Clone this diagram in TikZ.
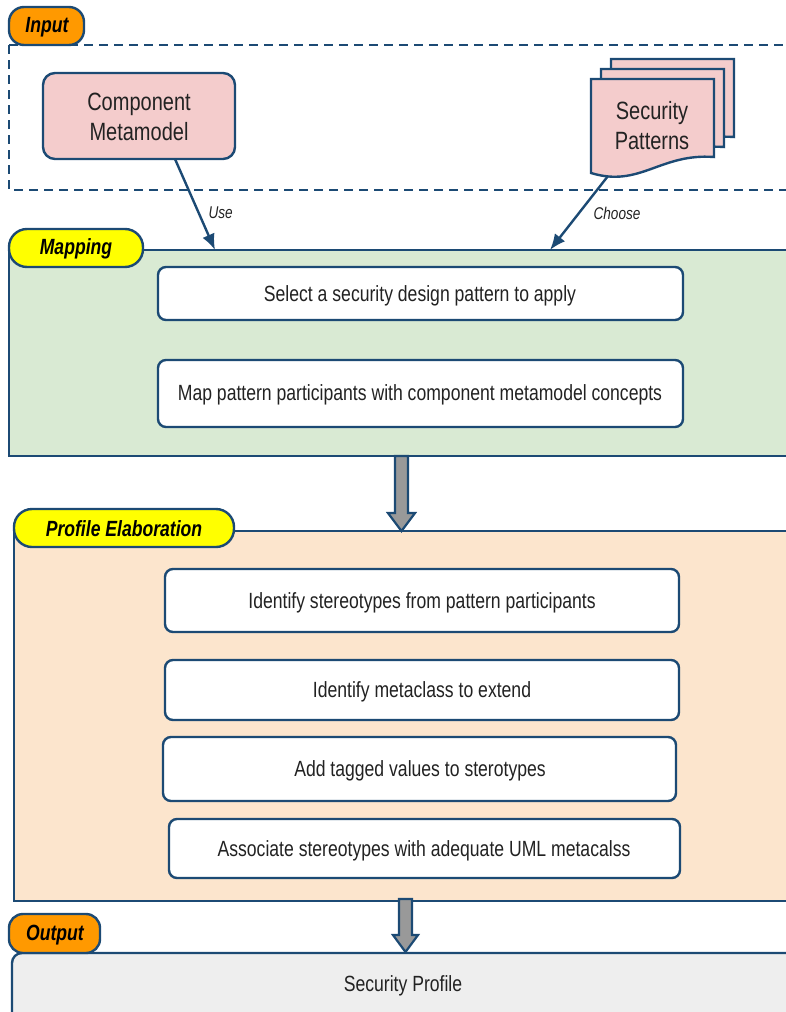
\documentclass[tikz,border=0pt]{standalone}
\usepackage{fontspec}
\setmainfont{Liberation Sans}[FakeStretch=0.80]
\usetikzlibrary{arrows.meta}
\definecolor{navy}{HTML}{1C4A74}
\definecolor{tagorange}{HTML}{FF9900}
\definecolor{tagyellow}{HTML}{FFFF00}
\definecolor{pinkfill}{HTML}{F4CCCC}
\definecolor{greenfill}{HTML}{D9EAD3}
\definecolor{peachfill}{HTML}{FCE5CD}
\definecolor{grayfill}{HTML}{EEEEEE}
\definecolor{arrowgray}{HTML}{999999}
\definecolor{txt}{HTML}{222222}
\tikzset{
  frame/.style={draw=navy, line width=2.4pt},
  stepbox/.style={draw=navy, line width=2.4pt, fill=white, rounded corners=8pt},
  tagbox/.style={draw=navy, line width=2.4pt, rounded corners=17pt},
  tagtext/.style={font=\fontsize{22}{26}\selectfont\bfseries\itshape, text=black},
  boxtext/.style={font=\fontsize{22}{26}\selectfont, text=txt},
  bigtext/.style={font=\fontsize{25}{30}\selectfont, text=txt, align=center},
  lbl/.style={font=\fontsize{17}{20}\selectfont\itshape, text=txt},
  conn/.style={draw=navy, line width=2.4pt, -{Latex[length=16pt,width=13pt]}},
  fatarrow/.style={draw=navy, line width=2.2pt, fill=arrowgray, line join=miter},
}
\begin{document}
\begin{tikzpicture}[x=1pt,y=-1pt]
\useasboundingbox (0,0) rectangle (786,1012);
\clip (0,0) rectangle (786,1012);
% Input dashed region
\draw[navy, line width=2.7pt, dash pattern=on 9pt off 6pt] (9,45) -- (800,45) (9,45) -- (9,190) -- (800,190);
% Component Metamodel
\draw[frame, fill=pinkfill, rounded corners=12pt] (43,73) rectangle (235,159);
\node[bigtext] (cm) at (139,117) {Component\\Metamodel};
\coordinate (cmB) at (175,159);
% Security patterns stack
\foreach \d in {20,10,0}{
  \draw[frame, fill=pinkfill, line join=miter]
    ({591+\d},{173-\d}) -- ({591+\d},{79-\d}) -- ({714+\d},{79-\d}) -- ({714+\d},{157-\d})
    .. controls ({660+\d},{153-\d}) and ({640+\d},{188-\d}) .. ({591+\d},{173-\d}) -- cycle;
}
\node[bigtext] (sp) at (652,126) {Security\\Patterns};
\coordinate (spB) at (608,176);
% Mapping region
\fill[greenfill] (9,250) rectangle (800,456);
\draw[navy, line width=2.4pt] (800,250) -- (9,250) -- (9,456) -- (800,456);
\coordinate (mapUse) at (215,250);
\coordinate (mapChoose) at (550,250);
\draw[tagbox, fill=tagyellow, rounded corners=18pt] (9,229) rectangle (143,267);
\node[tagtext] (tmap) at (76,249) {Mapping};
\draw[stepbox] (158,267) rectangle (683,320);
\node[boxtext] (s1) at (420,296) {Select a security design pattern to apply};
\draw[stepbox] (158,360) rectangle (683,427);
\node[boxtext] (s2) at (420,395) {Map pattern participants with component metamodel concepts};
% Input tag
\draw[tagbox, fill=tagorange, rounded corners=15pt] (9,7) rectangle (84,45);
\node[tagtext] (tin) at (47,27) {Input};
% connectors
\draw[conn] (cmB) -- (mapUse);
\node[lbl, anchor=west] (luse) at (205,213) {Use};
\draw[conn] (spB) -- (mapChoose);
\node[lbl] (lch) at (617,213) {Choose};
% Profile Elaboration region
\fill[peachfill] (14,531) rectangle (800,901);
\draw[navy, line width=2.4pt] (800,531) -- (14,531) -- (14,901) -- (800,901);
\draw[tagbox, fill=tagyellow, rounded corners=18pt] (14,509) rectangle (234,547);
\node[tagtext] (tpe) at (124,529) {Profile Elaboration};
\draw[stepbox] (165,569) rectangle (679,632);
\node[boxtext] (p1) at (422,603) {Identify stereotypes from pattern participants};
\draw[stepbox] (165,660) rectangle (679,720);
\node[boxtext] (p2) at (422,692) {Identify metaclass to extend};
\draw[stepbox] (163,737) rectangle (676,801);
\node[boxtext] (p3) at (420,771) {Add tagged values to sterotypes};
\draw[stepbox] (169,819) rectangle (680,878);
\node[boxtext] (p4) at (424,851) {Associate stereotypes with adequate UML metacalss};
% fat arrow 1
\draw[fatarrow] (395,456) -- (408,456) -- (408,513) -- (415,513) -- (401.5,531) -- (388,513) -- (395,513) -- cycle;
% Output
\draw[frame, fill=grayfill, rounded corners=10pt] (800,953) -- (12,953) -- (12,1030) -- (800,1030);
\draw[tagbox, fill=tagorange, rounded corners=14pt] (9,914) rectangle (100,953);
\node[tagtext] (tout) at (55,935) {Output};
\node[boxtext] (out) at (403,986) {Security Profile};
% fat arrow 2
\draw[fatarrow] (399,899) -- (412,899) -- (412,935) -- (418,935) -- (405.5,952) -- (393,935) -- (399,935) -- cycle;
\end{tikzpicture}
\end{document}
